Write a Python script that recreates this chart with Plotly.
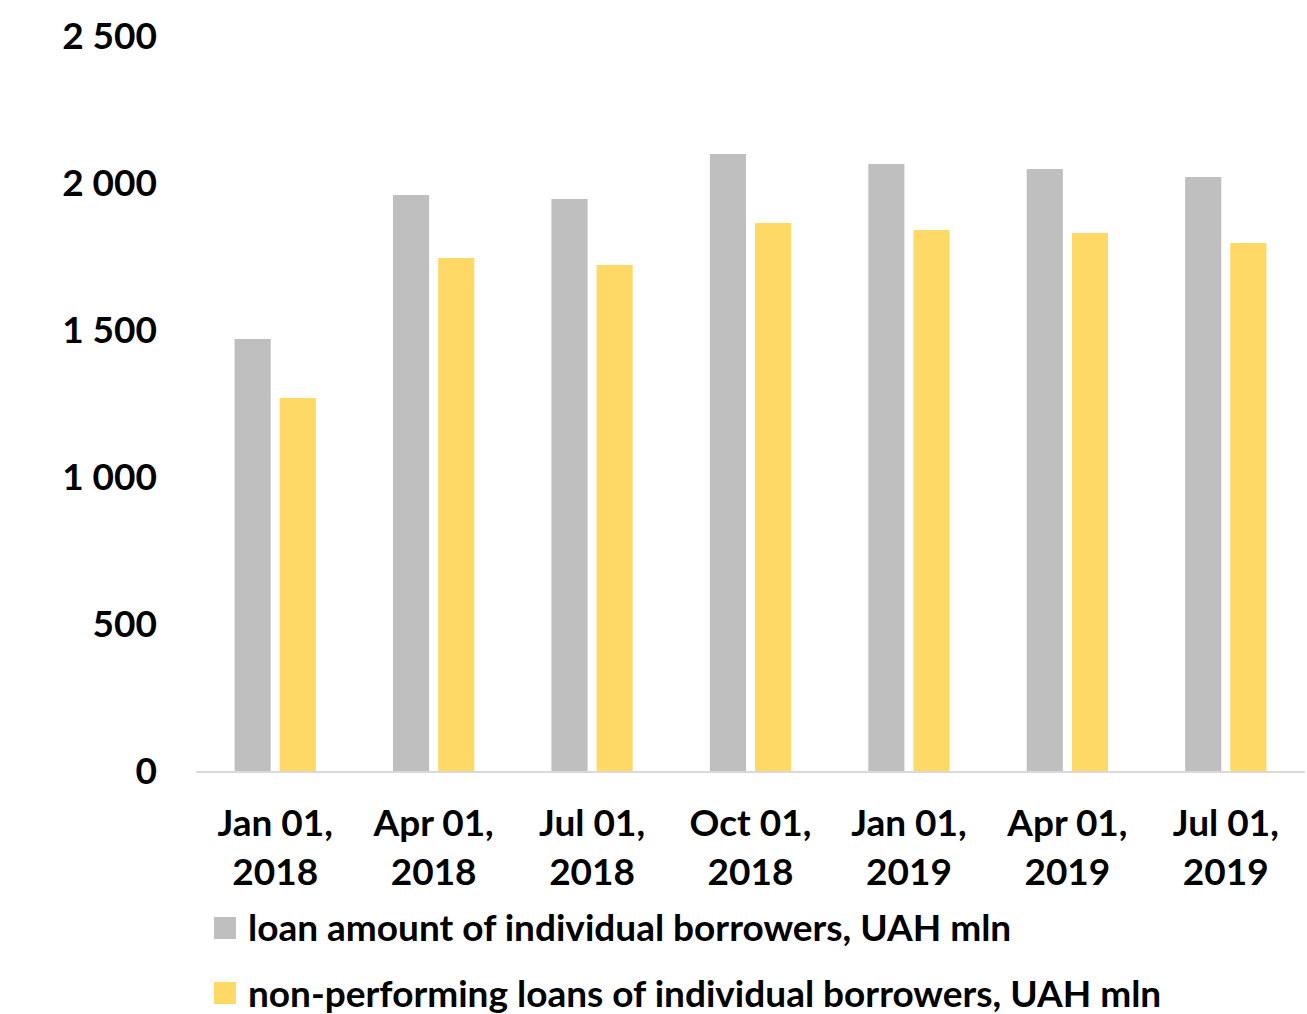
import plotly.graph_objects as go

# Quarterly reporting dates
dates = ["Jan 01,<br>2018", "Apr 01,<br>2018", "Jul 01,<br>2018", "Oct 01,<br>2018",
         "Jan 01,<br>2019", "Apr 01,<br>2019", "Jul 01,<br>2019"]

# UAH mln
loan_amount = [1469, 1959, 1946, 2099, 2065, 2048, 2020]
npl_amount = [1269, 1745, 1721, 1864, 1840, 1830, 1796]

series_names = ["loan amount of individual borrowers, UAH mln",
                "non-performing loans of individual borrowers, UAH mln"]
series_colors = ["#BFBFBF", "#FFD966"]

y_ticks = [0, 500, 1000, 1500, 2000, 2500]

W, H = 1307, 1014
M_L, M_R, M_T, M_B = 196, 2, 36, 243
FONT = dict(family="Lato", size=37, color="#000000", weight="bold")

fig = go.Figure()
for vals, name, col in zip([loan_amount, npl_amount], series_names, series_colors):
    fig.add_trace(go.Bar(x=dates, y=vals, name=name, marker=dict(color=col, line=dict(width=0)),
                         showlegend=False))

# Hand-built legend below the plot (larger swatches than the built-in legend)
pw, ph = W - M_L - M_R, H - M_T - M_B


def px_x(x):
    return (x - M_L) / pw


def px_y(y):
    return (H - M_B - y) / ph


legend_rows = [927, 992]
for yc, name, col in zip(legend_rows, series_names, series_colors):
    fig.add_shape(type="rect", xref="paper", yref="paper",
                  x0=px_x(214), x1=px_x(236), y0=px_y(yc + 1 - 11), y1=px_y(yc + 1 + 11),
                  fillcolor=col, line=dict(width=0))
    fig.add_annotation(xref="paper", yref="paper", x=px_x(246), y=px_y(yc),
                       text=name, showarrow=False, xanchor="left", yanchor="middle",
                       font=FONT)

fig.update_layout(
    width=W, height=H,
    margin=dict(l=M_L, r=M_R, t=M_T, b=M_B),
    paper_bgcolor="white", plot_bgcolor="white",
    barmode="group", bargap=0.43, bargroupgap=0.2,
    separators=". ",
    font=FONT,
)
fig.update_xaxes(showline=True, linecolor="#D9D9D9", linewidth=2, showgrid=False,
                 ticks="", tickfont=FONT, ticklabelstandoff=19)
fig.update_yaxes(range=[0, 2500], tickvals=y_ticks, tickformat=",d", showgrid=False,
                 zeroline=False, showline=False, ticks="", tickfont=FONT,
                 ticklabelstandoff=38)

fig.write_html("out.html")
